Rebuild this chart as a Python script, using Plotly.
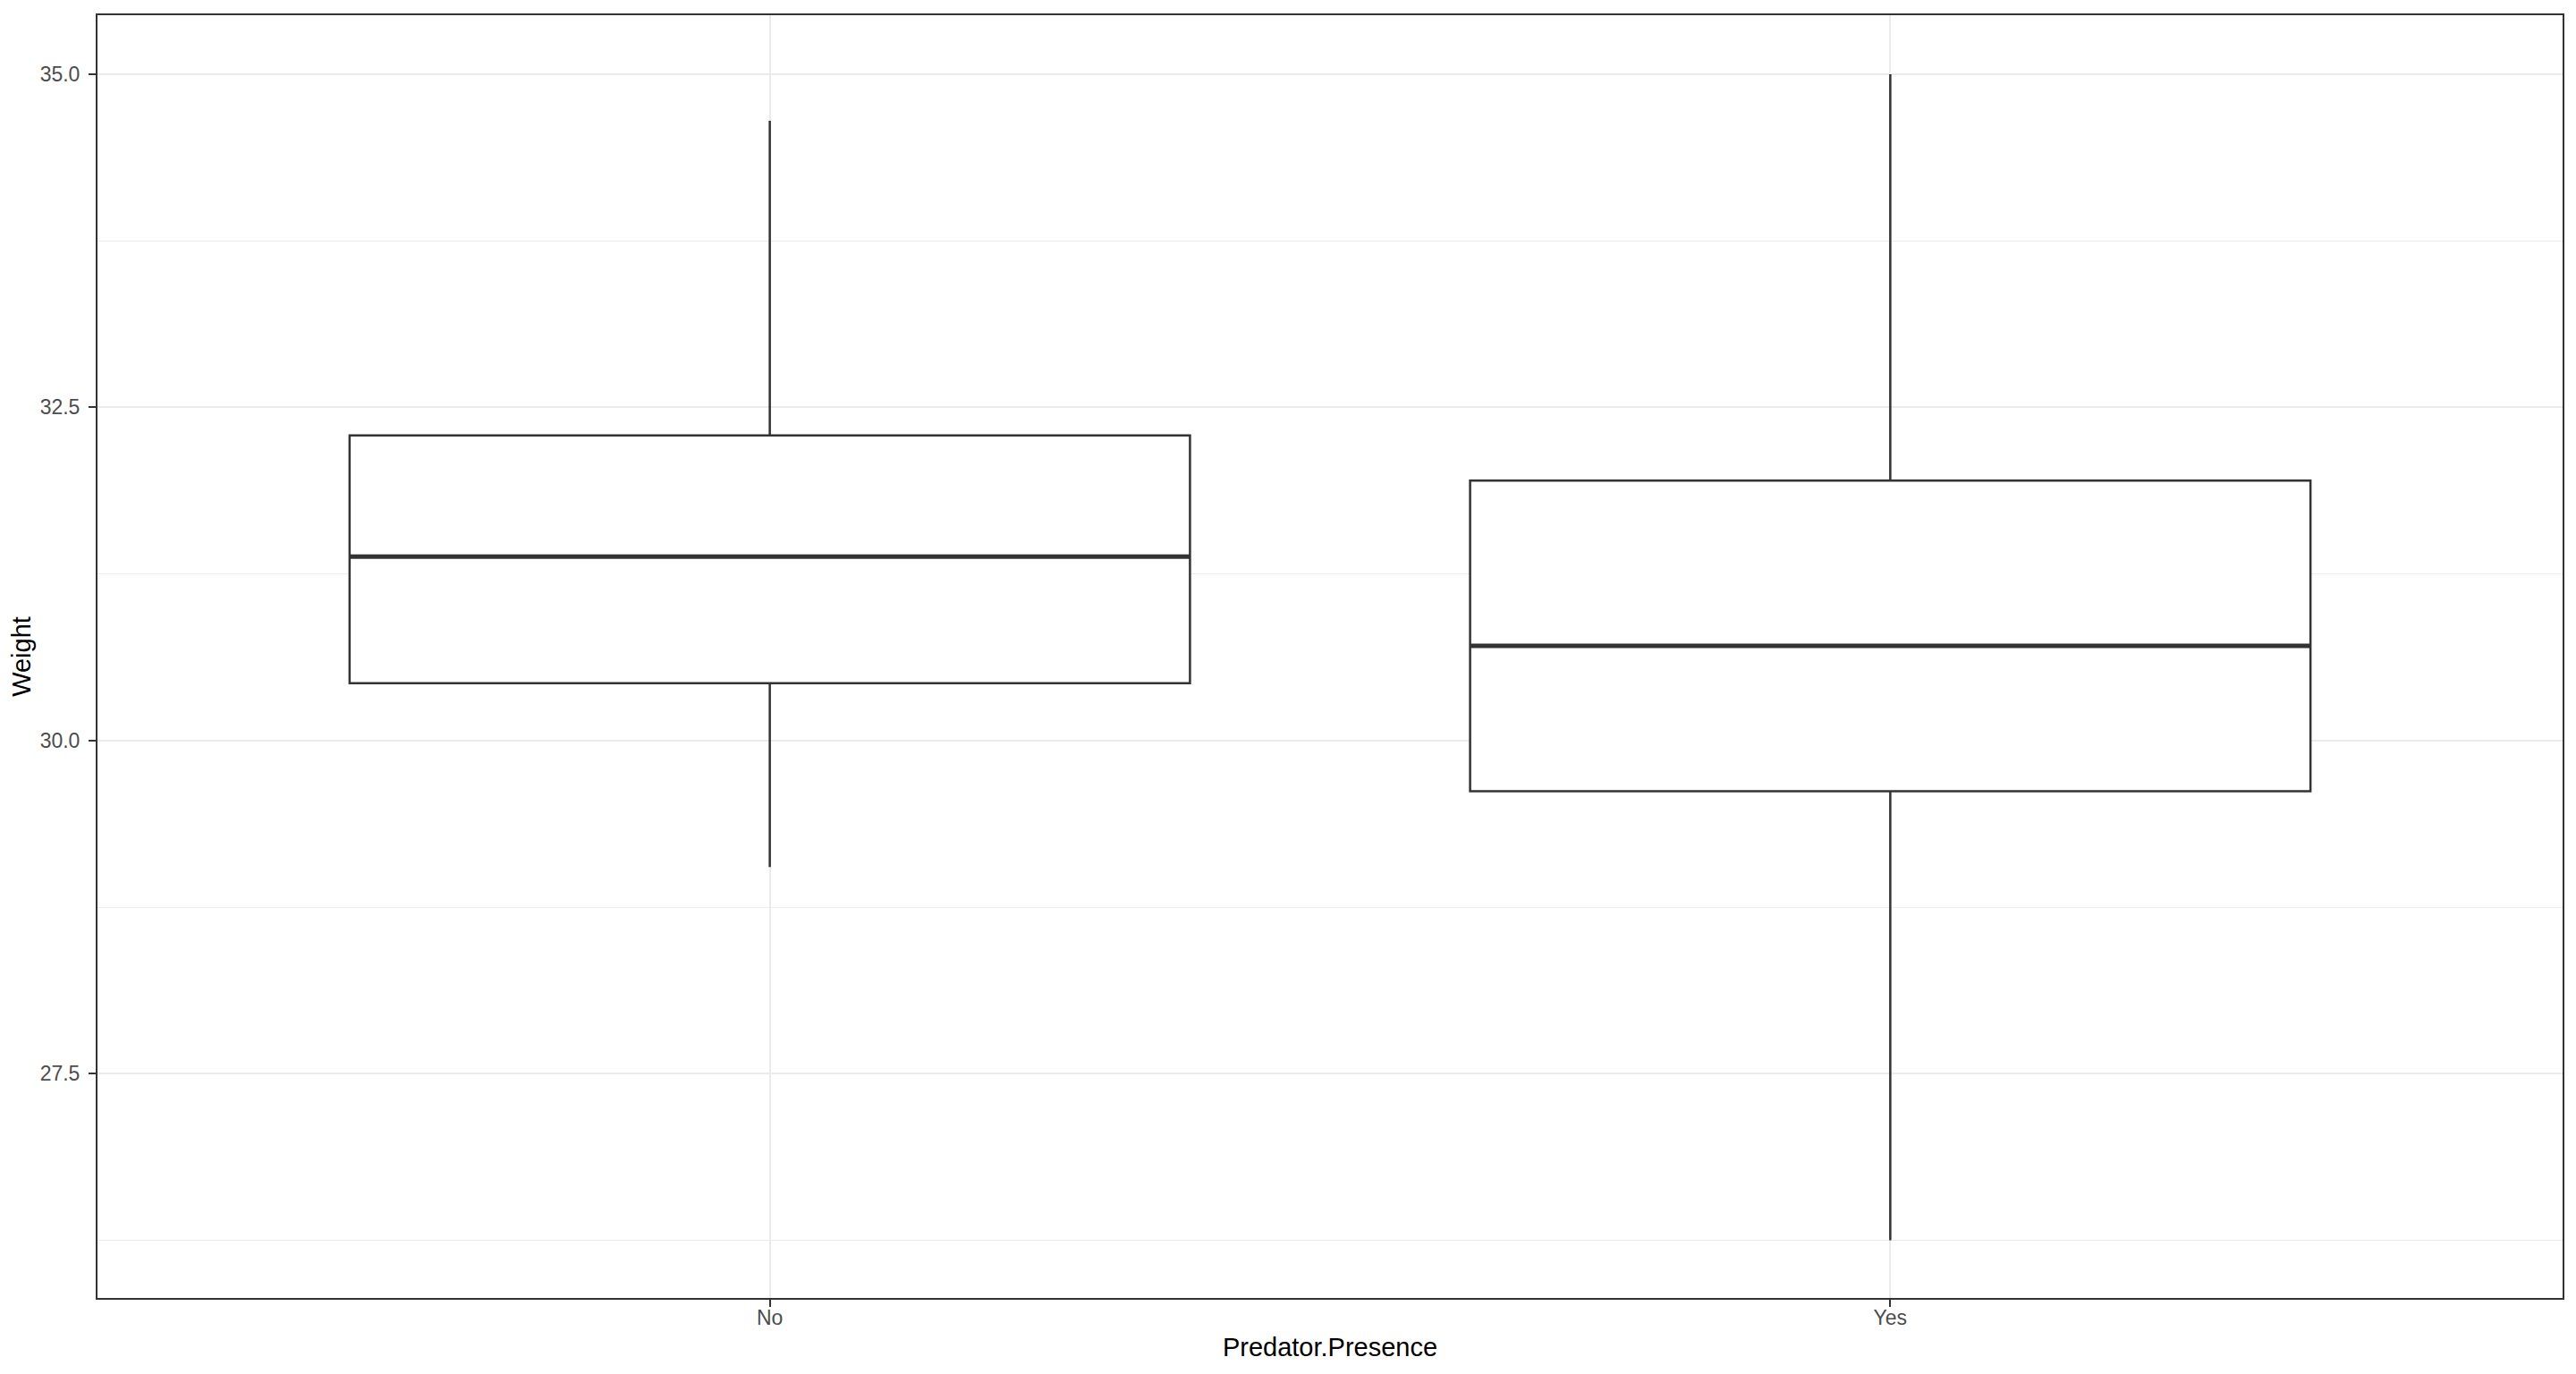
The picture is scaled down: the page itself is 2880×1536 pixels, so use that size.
import plotly.graph_objects as go

# ---- data ----
categories = ["No", "Yes"]
lower_whisker = [29.05, 26.25]
q1_values = [30.43, 29.62]
median_values = [31.38, 30.71]
q3_values = [32.29, 31.95]
upper_whisker = [34.65, 35.00]
y_ticks = [27.5, 30.0, 32.5, 35.0]
y_tick_labels = ["27.5", "30.0", "32.5", "35.0"]

box_width = 0.75
line_col = "#333333"
positions = list(range(len(categories)))

fig = go.Figure()
for i, cat in enumerate(categories):
    fig.add_trace(go.Box(
        x=[positions[i]],
        q1=[q1_values[i]], median=[median_values[i]], q3=[q3_values[i]],
        lowerfence=[lower_whisker[i]], upperfence=[upper_whisker[i]],
        width=box_width, whiskerwidth=0,
        fillcolor="white",
        line=dict(color=line_col, width=2.5),
        boxpoints=False, showlegend=False, name=cat, hoverinfo="skip",
    ))
    # thicker median line, as in ggplot
    fig.add_trace(go.Scatter(
        x=[positions[i] - box_width / 2, positions[i] + box_width / 2],
        y=[median_values[i], median_values[i]],
        mode="lines", line=dict(color=line_col, width=5),
        showlegend=False, hoverinfo="skip",
    ))

font_family = "Liberation Sans, Arial, sans-serif"
fig.update_layout(
    width=2880, height=1536,
    margin=dict(l=101, r=23, t=7, b=93),
    paper_bgcolor="white", plot_bgcolor="white",
    font=dict(family=font_family),
    showlegend=False,
)
fig.update_xaxes(
    range=[-0.6, len(categories) - 1 + 0.6],
    tickmode="array", tickvals=positions, ticktext=categories,
    showgrid=True, gridcolor="#EBEBEB", gridwidth=2,
    zeroline=False,
    showline=True, mirror=True, linecolor=line_col, linewidth=2,
    ticks="outside", ticklen=8, tickwidth=2, tickcolor=line_col,
    ticklabelstandoff=-8,
    tickfont=dict(size=23, color="#4D4D4D"),
    title=dict(text="Predator.Presence", font=dict(size=29, color="black"), standoff=11),
)
fig.update_yaxes(
    range=[25.817, 35.4425],
    tickmode="array", tickvals=y_ticks, ticktext=y_tick_labels,
    showgrid=True, gridcolor="#EBEBEB", gridwidth=2,
    minor=dict(dtick=1.25, tick0=0, showgrid=True, gridcolor="#EBEBEB", gridwidth=1.2, ticks=""),
    zeroline=False,
    showline=True, mirror=True, linecolor=line_col, linewidth=2,
    ticks="outside", ticklen=8, tickwidth=2, tickcolor=line_col,
    ticklabelstandoff=5,
    tickfont=dict(size=23, color="#4D4D4D"),
    title=dict(text="Weight", font=dict(size=29, color="black"), standoff=8),
)

fig.write_html("out.html")
